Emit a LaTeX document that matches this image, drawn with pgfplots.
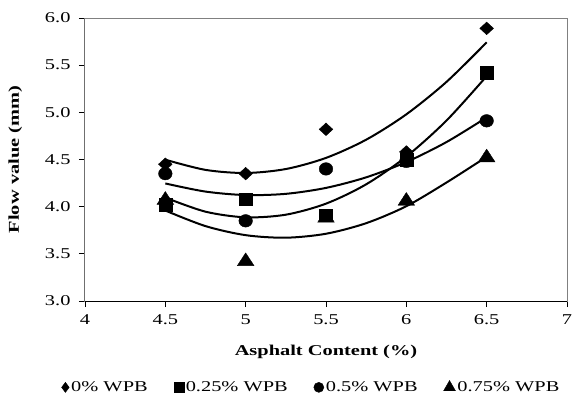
\documentclass[border=0pt]{standalone}
\usepackage{pgfplots}
\pgfplotsset{compat=1.18}
\usepackage{fontspec}
\setmainfont[FakeStretch=1.36]{Liberation Serif}
\begin{document}
\begin{tikzpicture}[font=\fontsize{15pt}{17pt}\selectfont]
\begin{axis}[
  scale only axis,
  width=482pt, height=283pt,
  xmin=4, xmax=7, ymin=3, ymax=6,
  xtick={4,4.5,5,5.5,6,6.5,7},
  xticklabels={4,4.5,5,5.5,6,6.5,7},
  ytick={3,3.5,4,4.5,5,5.5,6},
  yticklabels={3.0,3.5,4.0,4.5,5.0,5.5,6.0},
  tick align=outside, xtick pos=bottom, ytick pos=left,
  major tick length=6pt,
  tick style={black, line width=0.8pt},
  axis line style={draw=gray, line width=1pt},
  ticklabel style={font=\fontsize{15pt}{17pt}\selectfont},
  yticklabel style={xshift=-5pt},
  xticklabel style={yshift=-4pt},
  xlabel={\textbf{Asphalt Content (\%)}},
  ylabel={\textbf{Flow value (mm)}},
  label style={font=\fontsize{15pt}{17pt}\selectfont},
  xlabel style={yshift=-14pt},
  ylabel style={yshift=16pt},
  legend columns=4,
  legend style={draw=none, fill=none, at={(0.47,-0.27)}, anchor=north,
    font=\fontsize{15pt}{17pt}\selectfont,
    /tikz/every even column/.append style={column sep=24pt},
    /tikz/every odd column/.append style={column sep=0pt}},
  legend image post style={mark options={scale=0.8}},
  legend cell align=left,
]
\draw[black, line width=1pt] (rel axis cs:0,1) -- (rel axis cs:0,0) -- (rel axis cs:1,0);
% trend curves
\addplot[black, line width=2pt, smooth, forget plot] coordinates {
 (4.5,4.498)(4.75,4.390)(5,4.357)(5.25,4.399)(5.5,4.517)(5.75,4.710)(6,4.979)(6.25,5.323)(6.5,5.742)};
\addplot[black, line width=2pt, smooth, forget plot] coordinates {
 (4.5,4.096)(4.75,3.947)(5,3.887)(5.25,3.915)(5.5,4.032)(5.75,4.237)(6,4.531)(6.25,4.913)(6.5,5.384)};
\addplot[black, line width=2pt, smooth, forget plot] coordinates {
 (4.5,4.246)(4.75,4.160)(5,4.123)(5.25,4.136)(5.5,4.199)(5.75,4.311)(6,4.473)(6.25,4.685)(6.5,4.946)};
\addplot[black, line width=2pt, smooth, forget plot] coordinates {
 (4.5,3.959)(4.75,3.794)(5,3.698)(5.25,3.671)(5.5,3.713)(5.75,3.825)(6,4.005)(6.25,4.256)(6.5,4.529)};
% data
\addplot[only marks, mark=diamond*, mark size=6.3pt, mark options={xscale=1.45}, black]
 coordinates {(4.5,4.45)(5,4.35)(5.5,4.82)(6,4.58)(6.5,5.89)};
\addlegendentry{0\% WPB}
\addplot[only marks, mark=square*, mark size=6.3pt, mark options={xscale=1.05}, black]
 coordinates {(4.5,4.02)(5,4.08)(5.5,3.91)(6,4.50)(6.5,5.42)};
\addlegendentry{0.25\% WPB}
\addplot[only marks, mark=*, mark size=6.3pt, mark options={xscale=1.08}, black]
 coordinates {(4.5,4.35)(5,3.85)(5.5,4.40)(6,4.48)(6.5,4.91)};
\addlegendentry{0.5\% WPB}
\addplot[only marks, mark=triangle*, mark size=8.5pt, mark options={xscale=1.13}, black]
 coordinates {(4.5,4.07)(5,3.42)(5.5,3.88)(6,4.06)(6.5,4.52)};
\addlegendentry{0.75\% WPB}
\end{axis}
\pgfresetboundingbox
\path[use as bounding box] ([xshift=-85pt,yshift=-93pt]current axis.south west) rectangle ([xshift=15pt,yshift=18pt]current axis.north east);
\end{tikzpicture}
\end{document}
